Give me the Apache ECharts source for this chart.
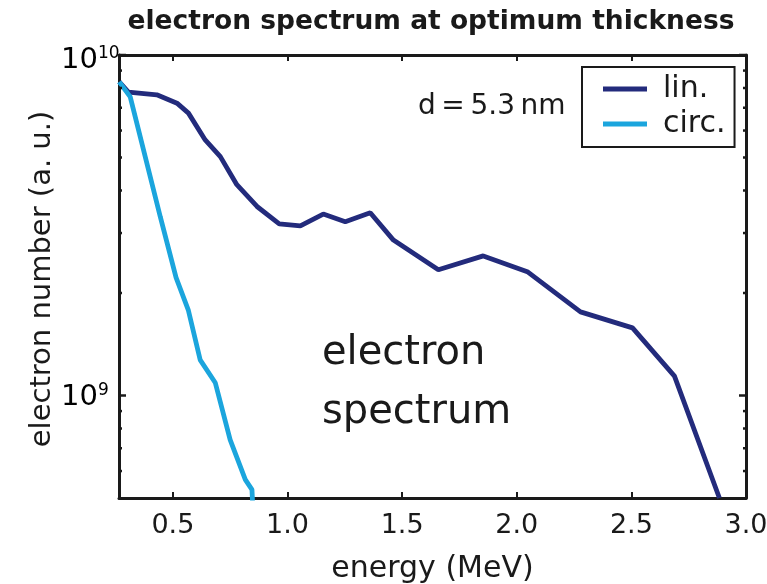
<!DOCTYPE html>
<html><head><meta charset="utf-8">
<script src="https://cdn.jsdelivr.net/npm/echarts@6/dist/echarts.min.js"></script>
<style>html,body{margin:0;padding:0;background:#fff}#c{width:767px;height:584px}</style>
</head><body><div id="c"></div>
<script>
// ---- data ----
const linEnergy = [0.266, 0.306, 0.430, 0.518, 0.568, 0.641, 0.707, 0.779, 0.867, 0.964, 1.056, 1.156, 1.252, 1.361, 1.462, 1.658, 1.854, 2.046, 2.278, 2.505, 2.688, 2.884];
const linCount  = [8.34e9, 7.78e9, 7.64e9, 7.22e9, 6.75e9, 5.63e9, 5.03e9, 4.16e9, 3.59e9, 3.19e9, 3.15e9, 3.41e9, 3.24e9, 3.44e9, 2.86e9, 2.34e9, 2.57e9, 2.31e9, 1.76e9, 1.58e9, 1.14e9, 5.0e8];
const circEnergy = [0.266, 0.314, 0.445, 0.514, 0.567, 0.619, 0.685, 0.750, 0.816, 0.845, 0.848];
const circCount  = [8.34e9, 7.53e9, 3.35e9, 2.22e9, 1.785e9, 1.273e9, 1.09e9, 7.41e8, 5.66e8, 5.29e8, 4.8e8];
const xTickValues = [0.5, 1.0, 1.5, 2.0, 2.5, 3.0];
const yMajorTicks = [1e9, 1e10];
const yMinorTicks = [6e8, 7e8, 8e8, 9e8, 2e9, 3e9, 4e9, 5e9, 6e9, 7e9, 8e9, 9e9];
const seriesNames = ['lin.', 'circ.'];

// ---- configuration ----
const X_MIN = 0.265, X_MAX = 3.0, Y_MIN = 5e8, Y_MAX = 1e10;
const FONT = '"DejaVu Sans"';
const INK = '#1a1a1a';
const C_LIN = '#232b7c', C_CIRC = '#1ba5dd';

const chart = echarts.init(document.getElementById('c'), null, {renderer: 'canvas'});
const axisLineStyle = {color: INK, width: 3};
const yAxisBase = {
  type: 'log', logBase: 10, min: Y_MIN, max: Y_MAX,
  axisLine: {show: true, lineStyle: axisLineStyle},
  axisTick: {show: false}, axisLabel: {show: false}, splitLine: {show: false}
};

const option = {
  backgroundColor: '#fff',
  animation: false,
  title: {
    text: 'electron spectrum at optimum thickness',
    left: 426, textAlign: 'center', top: 4,
    textStyle: {fontFamily: FONT, fontWeight: 'bold', fontSize: 26.5, color: INK}
  },
  grid: {left: 119, right: 21, top: 55, bottom: 86, containLabel: false, outerBoundsMode: 'none'},
  legend: {
    data: seriesNames, orient: 'vertical', left: 582, top: 67,
    icon: 'rect', itemWidth: 44, itemHeight: 5, itemGap: 5,
    padding: [7, 9, 8, 21], borderColor: INK, borderWidth: 2, backgroundColor: '#fff',
    textStyle: {fontFamily: FONT, fontSize: 30, color: INK, padding: [0, 0, 0, 11]}
  },
  xAxis: [{
    type: 'value', min: X_MIN, max: X_MAX, position: 'bottom',
    axisLine: {lineStyle: axisLineStyle},
    axisTick: {inside: true, length: 6, customValues: xTickValues, lineStyle: {color: INK, width: 2}},
    axisLabel: {customValues: xTickValues, formatter: v => Number(v).toFixed(1),
      fontFamily: FONT, fontSize: 27, color: INK, margin: 14},
    splitLine: {show: false},
    name: 'energy (MeV)', nameLocation: 'middle', nameGap: 56,
    nameTextStyle: {fontFamily: FONT, fontSize: 30, color: INK}
  }, {
    type: 'value', min: X_MIN, max: X_MAX, position: 'top',
    axisLine: {lineStyle: axisLineStyle},
    axisTick: {inside: true, length: 6, customValues: xTickValues, lineStyle: {color: INK, width: 2}},
    axisLabel: {show: false}, splitLine: {show: false}
  }],
  yAxis: [Object.assign({position: 'left'}, yAxisBase), Object.assign({position: 'right'}, yAxisBase)],
  graphic: [
    {type: 'text', left: 418, top: 93, style: {text: 'd\u2009=\u20095.3\u2009nm', font: '28px ' + FONT, fill: INK}},
    {type: 'text', left: 322, top: 324, style: {text: 'electron\nspectrum', font: '40px ' + FONT, lineHeight: 59, fill: INK}},
    {type: 'text', x: 42, y: 279, rotation: Math.PI / 2,
      style: {text: 'electron number (a. u.)', font: '29px ' + FONT, fill: INK, align: 'center', verticalAlign: 'middle'}}
  ],
  series: [
    {name: 'lin.', type: 'line', data: linEnergy.map((e, i) => [e, linCount[i]]),
      showSymbol: false, symbol: 'none', clip: true, color: C_LIN,
      lineStyle: {color: C_LIN, width: 4.8}, z: 3},
    {name: 'circ.', type: 'line', data: circEnergy.map((e, i) => [e, circCount[i]]),
      showSymbol: false, symbol: 'none', clip: true, color: C_CIRC,
      lineStyle: {color: C_CIRC, width: 4.8}, z: 4},
    {name: 'yticks', type: 'custom', silent: true, clip: false, z: 5,
      data: yMinorTicks.map(v => [X_MIN, v, 0]).concat(yMajorTicks.map(v => [X_MIN, v, 1])),
      renderItem(params, api) {
        const v = api.value(1), major = api.value(2);
        const pl = api.coord([X_MIN, v]), pr = api.coord([X_MAX, v]);
        const len = major ? 7 : 3;
        const st = {stroke: INK, lineWidth: 2.5};
        return {type: 'group', children: [
          {type: 'line', shape: {x1: pl[0], y1: pl[1], x2: pl[0] + len, y2: pl[1]}, style: st},
          {type: 'line', shape: {x1: pr[0], y1: pr[1], x2: pr[0] - len, y2: pr[1]}, style: st}
        ]};
      }},
    {name: 'ylabels', type: 'custom', silent: true, clip: false, z: 5,
      data: yMajorTicks.map(v => [X_MIN, v]),
      renderItem(params, api) {
        const v = api.value(1);
        const p = api.coord([X_MIN, v]);
        const exp = Math.round(Math.log10(v));
        const shift = exp >= 10 ? 5 : 2;
        return {type: 'text', x: p[0] - 58, y: p[1] + shift, style: {
          text: '{b|10}{s|' + exp + '}', align: 'left', verticalAlign: 'middle',
          rich: {
            b: {fontFamily: FONT, fontSize: 29, color: INK, lineHeight: 30},
            s: {fontFamily: FONT, fontSize: 17, color: INK, lineHeight: 30, verticalAlign: 'top', padding: [0, 0, 12, 0]}
          }}};
      }}
  ]
};
chart.setOption(option);
</script></body></html>
